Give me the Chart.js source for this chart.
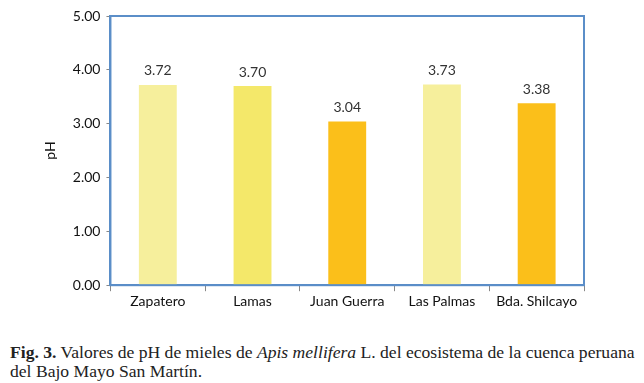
<!DOCTYPE html>
<html>
<head>
<meta charset="utf-8">
<script src="https://cdn.jsdelivr.net/npm/chart.js@4"></script>
<style>
  body { margin: 0; background: #fff; }
  #wrap { position: relative; width: 644px; height: 312px; }
  #caption {
    position: absolute; left: 10px; top: 343px; width: 640px;
    font-family: "Liberation Serif", serif; font-size: 17.6px; line-height: 19px; color: #222;
    white-space: nowrap;
  }
</style>
</head>
<body>
<div id="wrap"><canvas id="chart"></canvas></div>
<div id="caption"><b>Fig. 3.</b> Valores de pH de mieles de <i>Apis mellifera</i> L. del ecosistema de la cuenca peruana<br>del Bajo Mayo San Martín.</div>
<script>
const categories = ["Zapatero", "Lamas", "Juan Guerra", "Las Palmas", "Bda. Shilcayo"];
const phValues = [3.72, 3.70, 3.04, 3.73, 3.38];
const barColors = ["#F6EF9C", "#F4E86A", "#FBBF1A", "#F6EF9C", "#FBBF1A"];
const yTicks = [0, 1, 2, 3, 4, 5];

// etiquetas encima de las barras
const valueLabels = {
  id: "valueLabels",
  afterDatasetsDraw(chart) {
    const ctx = chart.ctx;
    const meta = chart.getDatasetMeta(0);
    ctx.save();
    ctx.font = "14px Lato";
    ctx.fillStyle = "#333";
    ctx.textAlign = "center";
    ctx.textBaseline = "bottom";
    meta.data.forEach((bar, i) => {
      ctx.fillText(phValues[i].toFixed(2), bar.x, bar.y - 7);
    });
    ctx.restore();
  }
};

// marco azul del área
const frame = {
  id: "frame",
  afterDraw(chart) {
    const a = chart.chartArea;
    const ctx = chart.ctx;
    ctx.save();
    ctx.strokeStyle = "#5B8EC8";
    ctx.lineWidth = 2;
    ctx.strokeRect(a.left, a.top, a.right - a.left, a.bottom - a.top);
    ctx.restore();
  }
};

new Chart(document.getElementById("chart"), {
  type: "bar",
  data: {
    labels: categories,
    datasets: [{
      data: phValues,
      backgroundColor: barColors,
      borderWidth: 0,
      categoryPercentage: 1,
      barPercentage: 0.4
    }]
  },
  options: {
    responsive: true,
    maintainAspectRatio: false,
    animation: false,
    layout: { padding: { left: 34, right: 60, top: 16, bottom: 0 } },
    plugins: { legend: { display: false }, tooltip: { enabled: false } },
    scales: {
      x: {
        grid: { drawOnChartArea: false, color: "#888", tickLength: 6, offset: true },
        border: { color: "#5B8EC8", width: 2 },
        ticks: { color: "#111", font: { family: "Lato", size: 14 }, padding: 2 }
      },
      y: {
        min: 0,
        max: 5,
        afterBuildTicks: (axis) => { axis.ticks = yTicks.map(v => ({ value: v })); },
        grid: { drawOnChartArea: false, color: "#888", tickLength: 4 },
        border: { color: "#5B8EC8", width: 2 },
        ticks: {
          color: "#111",
          font: { family: "Lato", size: 14 },
          padding: 6,
          callback: (v) => v.toFixed(2)
        },
        title: { display: true, text: "pH", color: "#111", font: { family: "Lato", size: 14 }, padding: 8 }
      }
    }
  },
  plugins: [valueLabels, frame]
});
</script>
</body>
</html>
